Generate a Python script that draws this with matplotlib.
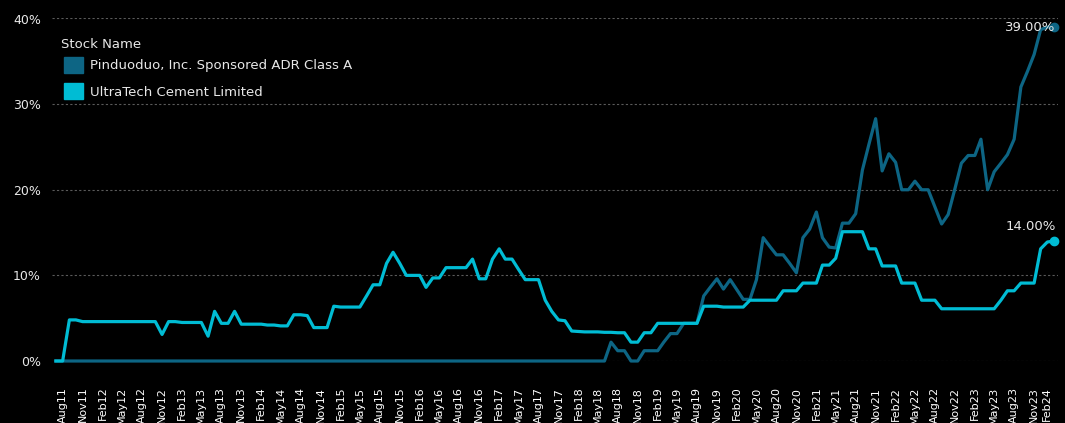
import matplotlib
matplotlib.use('Agg')
import matplotlib.pyplot as plt
import matplotlib.transforms as mtransforms
from matplotlib.patches import Patch
import pandas as pd

# monthly values, Jul 2011 .. Feb 2024 (percent)
months = pd.date_range('2011-07-01', '2024-02-01', freq='MS')

pinduoduo = [0] * 84 + [
    2.2, 1.2, 1.2, 0, 0, 1.2, 1.2, 1.2, 2.2, 3.2, 3.2,            # Jul18 - May19
    4.4, 4.4, 4.4, 7.6, 8.6, 9.6, 8.4, 9.5, 8.3, 7.2, 7.2,        # Jun19 - Apr20
    9.5, 14.4, 13.4, 12.4, 12.4, 11.4, 10.3, 14.4, 15.4, 17.4,    # May20 - Feb21
    14.4, 13.3, 13.2, 16.1, 16.1, 17.2, 22.3, 25.3, 28.3, 22.2,   # Mar21 - Dec21
    24.2, 23.2, 20.0, 20.0, 21.0, 20.0, 20.0, 18.0, 16.0, 17.1,   # Jan22 - Oct22
    20.1, 23.1, 24.0, 24.0, 25.9, 20.0, 22.1, 23.1, 24.1, 25.9,   # Nov22 - Aug23
    32.0, 33.8, 35.8, 38.7, 39.0, 39.0,                           # Sep23 - Feb24
]

ultratech = [
    0, 0, 4.8, 4.8, 4.6, 4.6, 4.6, 4.6, 4.6, 4.6, 4.6, 4.6, 4.6, 4.6,  # Jul11 - Aug12
    4.6, 4.6, 3.1, 4.6, 4.6, 4.5, 4.5, 4.5, 4.5, 2.9, 5.8, 4.4,        # Sep12 - Aug13
    4.4, 5.8, 4.3, 4.3, 4.3, 4.3, 4.2, 4.2, 4.1, 4.1, 5.4, 5.4,        # Sep13 - Aug14
    5.3, 3.9, 3.9, 3.9, 6.4, 6.3, 6.3, 6.3, 6.3, 7.6, 8.9, 8.9,        # Sep14 - Aug15
    11.4, 12.7, 11.4, 10.0, 10.0, 10.0, 8.6, 9.7, 9.7, 10.9, 10.9, 10.9,  # Sep15 - Aug16
    10.9, 11.9, 9.6, 9.6, 11.9, 13.1, 11.9, 11.9, 10.7, 9.5, 9.5, 9.5,    # Sep16 - Aug17
    7.1, 5.8, 4.8, 4.7, 3.5, 3.45, 3.4, 3.4, 3.4, 3.35, 3.35, 3.3,      # Sep17 - Aug18
    3.3, 2.2, 2.2, 3.3, 3.3, 4.4, 4.4, 4.4, 4.4, 4.4, 4.4, 4.4,        # Sep18 - Aug19
    6.4, 6.4, 6.4, 6.3, 6.3, 6.3, 6.3, 7.1, 7.1, 7.1, 7.1, 7.1,        # Sep19 - Aug20
    8.2, 8.2, 8.2, 9.1, 9.1, 9.1, 11.2, 11.2, 12.0, 15.1, 15.1, 15.1,  # Sep20 - Aug21
    15.1, 13.1, 13.1, 11.1, 11.1, 11.1, 9.1, 9.1, 9.1, 7.1, 7.1, 7.1,  # Sep21 - Aug22
    6.1, 6.1, 6.1, 6.1, 6.1, 6.1, 6.1, 6.1, 6.1, 7.1, 8.2, 8.2,        # Sep22 - Aug23
    9.1, 9.1, 9.1, 13.1, 13.9, 14.0,                                   # Sep23 - Feb24
]

dark = '#0d6584'
cyan = '#00bcd4'
txt = '#e8e8e8'

fig = plt.figure(figsize=(10.65, 4.23), dpi=100, facecolor='black')
ax = fig.add_axes([52 / 1065, 62 / 423, 1006 / 1065, 342.5 / 423])
ax.set_facecolor('black')

for y in [0, 10, 20, 30, 40]:
    ax.axhline(y, color='#5a5a5a', lw=0.8, ls=(0, (2, 2)), zorder=1)

ax.plot(months, pinduoduo, color=dark, lw=2.3, clip_on=False, zorder=3)
ax.plot(months, ultratech, color=cyan, lw=2.3, clip_on=False, zorder=4)

ax.plot(months[-1], pinduoduo[-1], 'o', color=dark, ms=6, clip_on=False, zorder=5)
ax.plot(months[-1], ultratech[-1], 'o', color=cyan, ms=6, clip_on=False, zorder=5)
ax.annotate('39.00%', (months[-1], pinduoduo[-1]), xytext=(1, 0),
            textcoords='offset points', ha='right', va='center',
            color=txt, fontsize=9.5, zorder=6)
ax.annotate('14.00%', (months[-1], ultratech[-1]), xytext=(1, 6),
            textcoords='offset points', ha='right', va='bottom',
            color=txt, fontsize=9.5, zorder=6)

ax.set_ylim(0, 40)
ax.set_yticks([0, 10, 20, 30, 40])
ax.set_yticklabels(['0%', '10%', '20%', '30%', '40%'])
ax.set_xlim(months[0] - pd.Timedelta(days=18), months[-1] + pd.Timedelta(days=18))

tick_dates = months[1::3]
ax.set_xticks(tick_dates)
ax.set_xticklabels([d.strftime('%b%y') for d in tick_dates], rotation=90,
                   ha='center', va='top')
ax.tick_params(axis='x', length=0, pad=18.5, labelsize=8, colors='white')
ax.tick_params(axis='y', length=0, pad=8, labelsize=9, colors=txt)
# last label is pulled left a little in the original
last = ax.get_xticklabels()[-1]
last.set_transform(last.get_transform() +
                   mtransforms.ScaledTranslation(-5 / 72, 0, fig.dpi_scale_trans))

for s in ax.spines.values():
    s.set_visible(False)

handles = [Patch(color=dark, label='Pinduoduo, Inc. Sponsored ADR Class A'),
           Patch(color=cyan, label='UltraTech Cement Limited')]
leg = ax.legend(handles=handles, loc='upper left',
                bbox_to_anchor=(55 / 1065, 1 - 47.5 / 423),
                bbox_transform=fig.transFigure, frameon=False,
                fontsize=9.5, handlelength=1.45,
                handleheight=1.5, handletextpad=0.5, labelspacing=0.8,
                borderpad=0.2)
for t in leg.get_texts():
    t.set_color(txt)
fig.text(61 / 1065, 1 - 44 / 423, 'Stock Name', color=txt, fontsize=9.5,
         ha='left', va='center')

fig.savefig('out.png', dpi=100, facecolor='black')
